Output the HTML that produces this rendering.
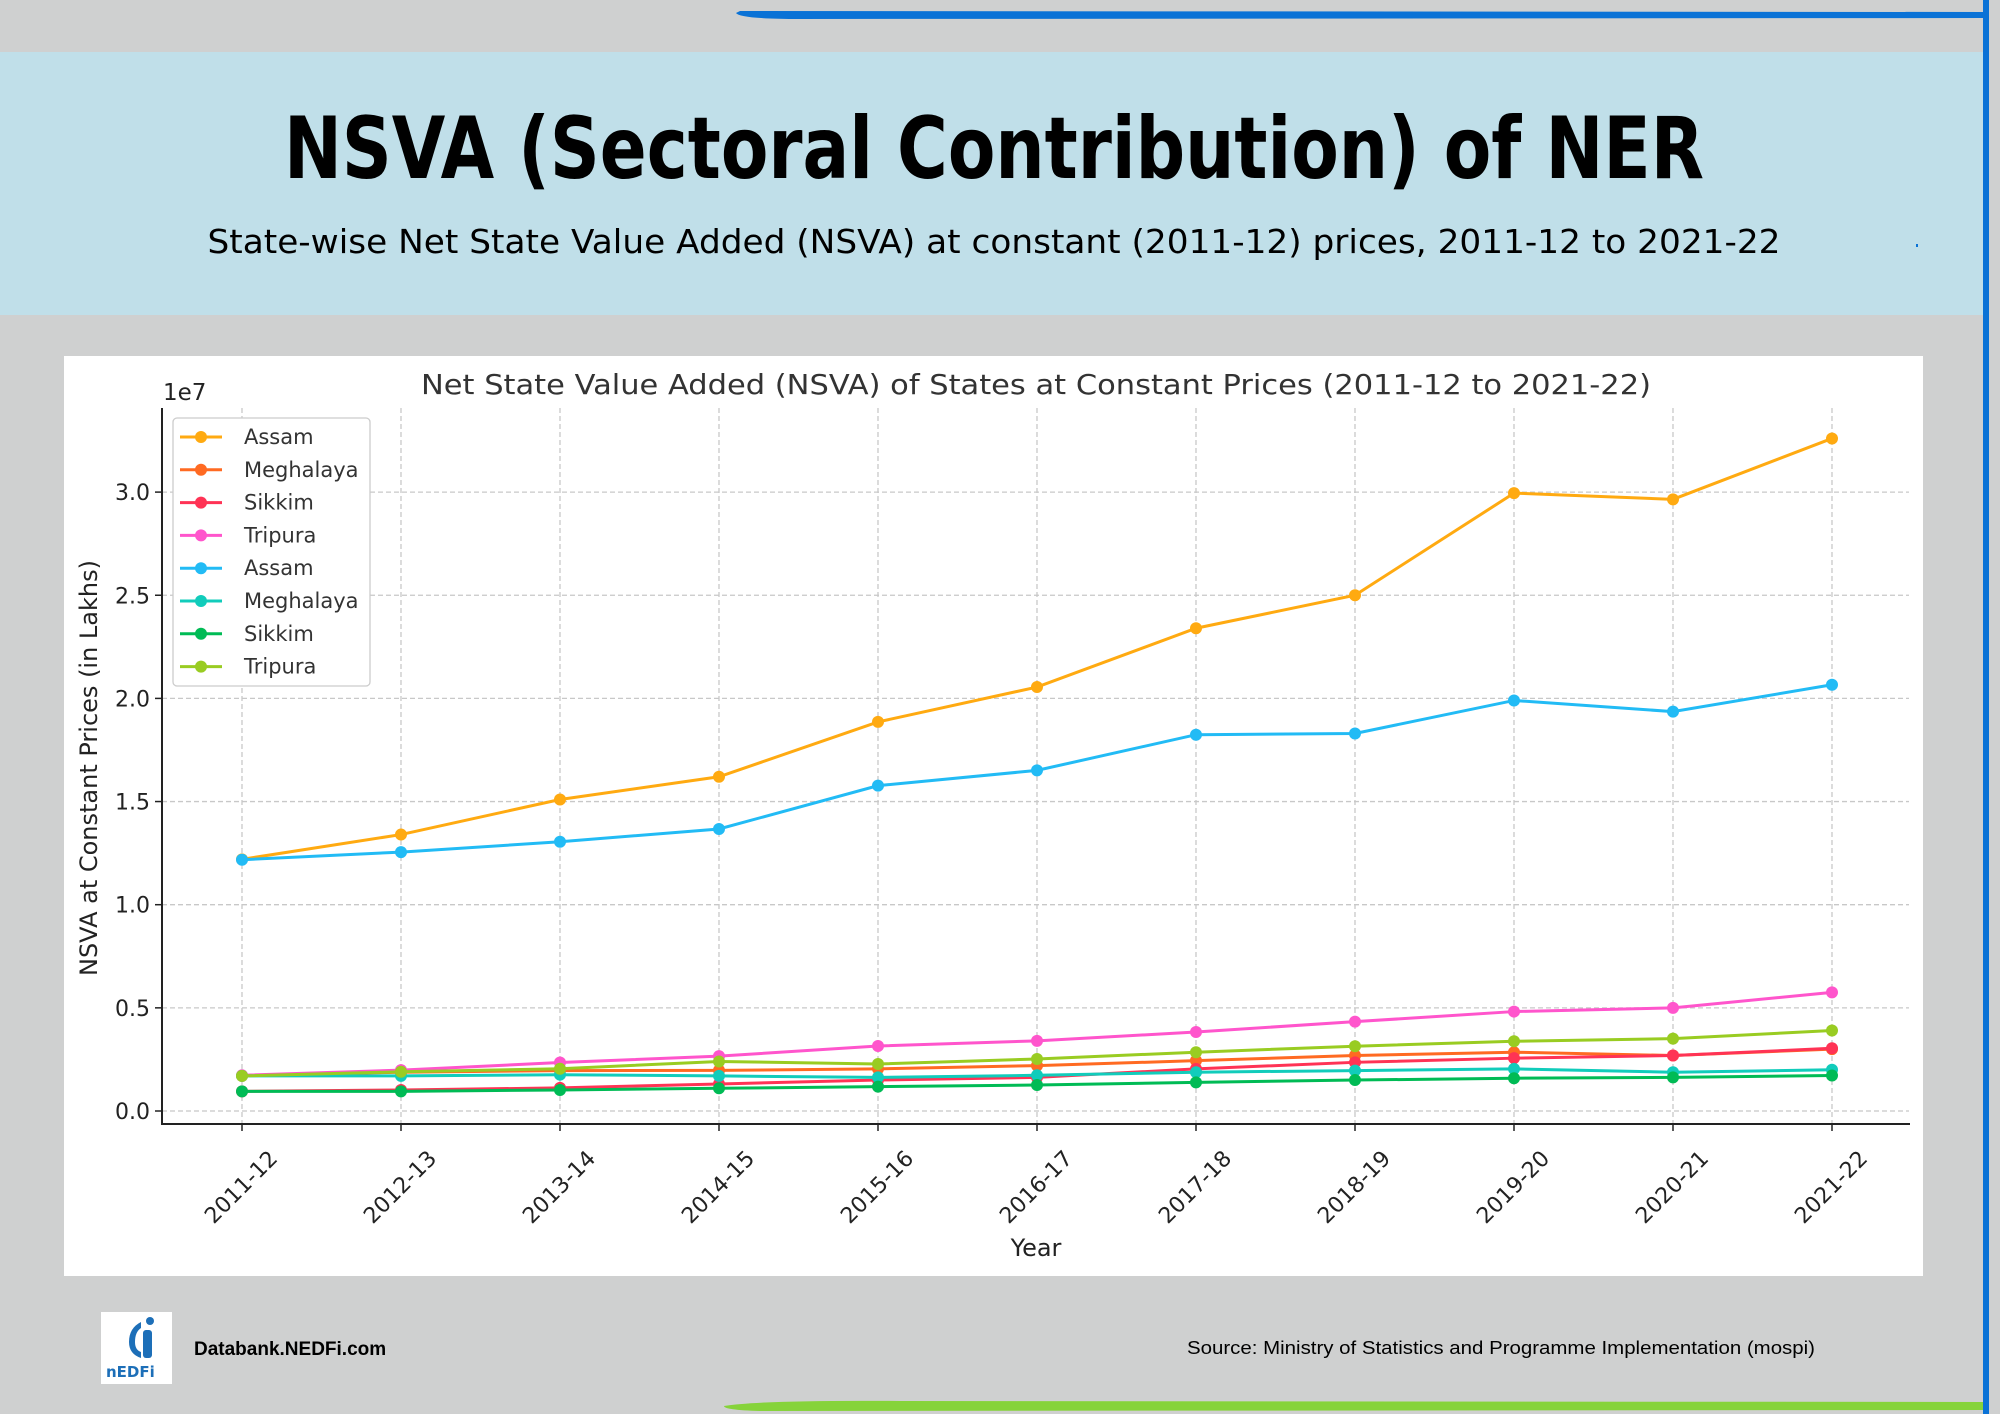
<!DOCTYPE html>
<html><head><meta charset="utf-8"><style>
html,body{margin:0;padding:0;background:#cfd0d0;}
svg{display:block;}
text{font-family:"DejaVu Sans","Liberation Sans",sans-serif;}
</style></head><body>
<svg id="s" width="2000" height="1414" viewBox="0 0 2000 1414" xmlns="http://www.w3.org/2000/svg">
<rect width="2000" height="1414" fill="#cfd0d0"/>
<rect x="0" y="52" width="1984" height="263" fill="#c0dfe9"/>
<path d="M736 13 Q740 19 800 19 L1983 18 L1983 12 L740 11 Z" fill="#0a72d6"/>
<rect x="1983" y="0" width="6" height="1414" fill="#0a72d6"/>
<path d="M724 1406 Q760 1400 900 1401 L1983 1402 L1983 1410 L760 1411 Q724 1410 724 1406Z" fill="#86d33a"/>
<text x="994" y="178" text-anchor="middle" font-size="86" font-weight="bold" fill="#000" style="font-family:'DejaVu Sans','Liberation Sans',sans-serif" textLength="1420" lengthAdjust="spacingAndGlyphs">NSVA (Sectoral Contribution) of NER</text>
<text x="994" y="253" text-anchor="middle" font-size="33" fill="#000" textLength="1573" lengthAdjust="spacingAndGlyphs">State-wise Net State Value Added (NSVA) at constant (2011-12) prices, 2011-12 to 2021-22</text>
<rect x="1916" y="244" width="2" height="3" fill="#0a72d6"/>
<rect x="64" y="356" width="1859" height="920" fill="#fff"/>
<g id="grid" stroke="#c8c8c8" stroke-width="1.3" stroke-dasharray="5,3"></g>
<text x="1036" y="394" text-anchor="middle" font-size="28" fill="#333" textLength="1230" lengthAdjust="spacingAndGlyphs">Net State Value Added (NSVA) of States at Constant Prices (2011-12 to 2021-22)</text>
<text x="163" y="400" font-size="23" fill="#222">1e7</text>
<g id="ser"></g>
<line x1="162" y1="408" x2="162" y2="1125" stroke="#222" stroke-width="2"/>
<line x1="161" y1="1124" x2="1910" y2="1124" stroke="#222" stroke-width="2"/>
<g id="ticks"></g>
<text transform="translate(97,768) rotate(-90)" text-anchor="middle" font-size="24" fill="#222">NSVA at Constant Prices (in Lakhs)</text>
<text x="1036" y="1256" text-anchor="middle" font-size="24" fill="#222">Year</text>
<g id="leg"></g>
<rect x="101" y="1312" width="71" height="72" fill="#fff"/>
<path d="M141 1322 q-12 6 -12 20 q0 12 12 16 l0 -6 q-6 -2 -6 -10 q0 -10 6 -14z" fill="#1d6fb8"/>
<rect x="143" y="1330" width="9" height="28" rx="3" fill="#1d6fb8"/>
<circle cx="150" cy="1321" r="4" fill="#1d6fb8"/>
<text x="106" y="1377" font-size="15" font-weight="bold" fill="#1d6fb8">nEDFi</text>
<text x="194" y="1355" font-size="19" font-weight="bold" fill="#000" style="font-family:'Liberation Sans',sans-serif">Databank.NEDFi.com</text>
<text x="1187" y="1354" font-size="18" fill="#000" textLength="628" lengthAdjust="spacingAndGlyphs" style="font-family:'Liberation Sans',sans-serif">Source: Ministry of Statistics and Programme Implementation (mospi)</text>
</svg>
<script>
var NS="http://www.w3.org/2000/svg";
function el(t,a,p,txt){var e=document.createElementNS(NS,t);for(var k in a)e.setAttribute(k,a[k]);if(txt)e.textContent=txt;document.getElementById(p).appendChild(e);return e;}
var X=function(i){return 242+159*i;},Y=function(v){return 1111-206.3*v;};
var yrs=["2011-12","2012-13","2013-14","2014-15","2015-16","2016-17","2017-18","2018-19","2019-20","2020-21","2021-22"];
for(var i=0;i<11;i++){el("line",{x1:X(i),x2:X(i),y1:408,y2:1124},"grid");
el("line",{x1:X(i),x2:X(i),y1:1124,y2:1131,stroke:"#222","stroke-width":1.5},"ticks");
el("text",{x:0,y:0,"text-anchor":"middle","font-size":22,fill:"#222",transform:"translate("+X(i)+",1188) rotate(-45)","dominant-baseline":"middle"},"ticks",yrs[i]);}
for(var j=0;j<7;j++){var v=j*0.5,y=Y(v);el("line",{x1:162,x2:1909,y1:y,y2:y},"grid");
el("line",{x1:155,x2:162,y1:y,y2:y,stroke:"#222","stroke-width":1.5},"ticks");
el("text",{x:150,y:y+8,"text-anchor":"end","font-size":22,fill:"#222"},"ticks",v.toFixed(1));}
var S=[
["Assam","#ffaa11",[1.22,1.34,1.51,1.62,1.886,2.055,2.34,2.50,2.995,2.965,3.26]],
["Meghalaya","#ff6a22",[0.17,0.188,0.196,0.197,0.204,0.22,0.244,0.269,0.285,0.269,0.30]],
["Sikkim","#ff3355",[0.095,0.102,0.112,0.131,0.15,0.163,0.204,0.236,0.256,0.269,0.304]],
["Tripura","#ff55cc",[0.173,0.198,0.235,0.266,0.315,0.34,0.383,0.433,0.482,0.5,0.575]],
["Assam","#22bbf5",[1.218,1.255,1.305,1.367,1.577,1.651,1.824,1.83,1.99,1.936,2.066]],
["Meghalaya","#11ccbb",[0.17,0.17,0.176,0.17,0.163,0.173,0.188,0.196,0.204,0.188,0.20]],
["Sikkim","#00bb55",[0.095,0.095,0.102,0.11,0.118,0.126,0.139,0.15,0.159,0.163,0.172]],
["Tripura","#99cc22",[0.17,0.19,0.205,0.24,0.228,0.252,0.285,0.314,0.338,0.351,0.39]]];
el("rect",{x:173,y:418,width:197,height:268,rx:4,fill:"#fff",stroke:"#ccc","stroke-width":1.3},"leg");
S.forEach(function(s,k){var pts=s[2].map(function(v,i){return X(i)+","+Y(v);}).join(" ");
el("polyline",{points:pts,fill:"none",stroke:s[1],"stroke-width":3},"ser");
s[2].forEach(function(v,i){el("circle",{cx:X(i),cy:Y(v),r:6,fill:s[1]},"ser");});
var ly=437+32.8*k;el("line",{x1:180,x2:222,y1:ly,y2:ly,stroke:s[1],"stroke-width":3},"leg");
el("circle",{cx:201,cy:ly,r:6,fill:s[1]},"leg");
el("text",{x:244,y:ly+7,"font-size":21,fill:"#333"},"leg",s[0]);});
</script>
</body></html>
